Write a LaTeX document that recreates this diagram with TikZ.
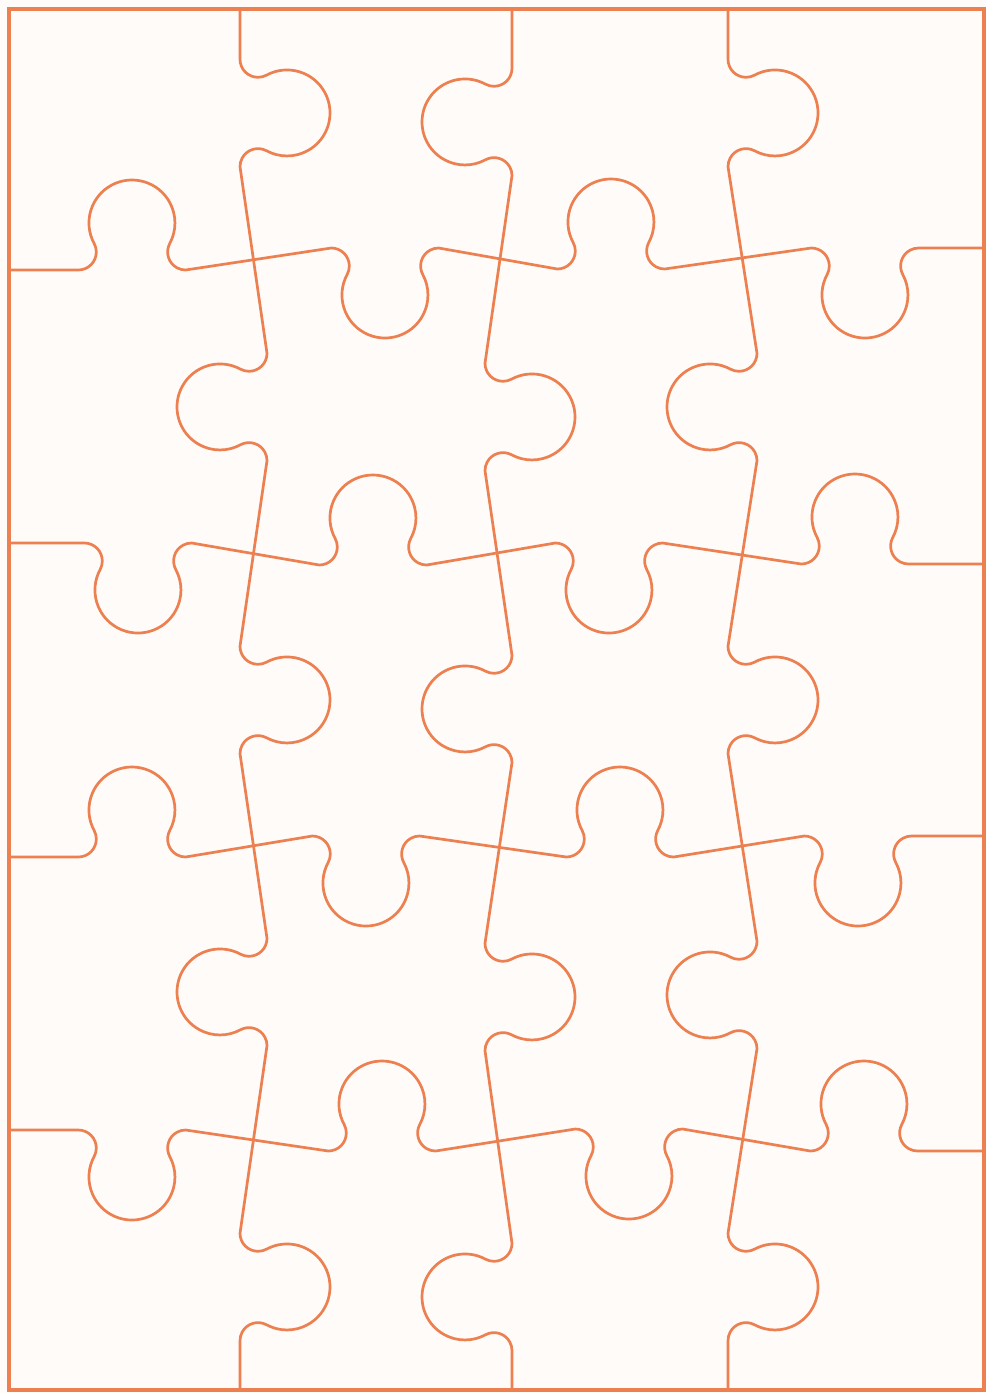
\documentclass[tikz,border=0pt]{standalone}
\usepackage{tikz}
\definecolor{pzline}{RGB}{237,128,80}
\definecolor{pzbg}{RGB}{254,251,248}
\begin{document}
\begin{tikzpicture}[x=1pt,y=-1pt,
  pz/.style={draw=pzline,line width=2.7pt,line cap=round,line join=round},
  kR/.style 2 args={insert path={-- (#1,#2-53.7) arc[start angle=180,end angle=61.6,radius=18] arc[start angle=-118.4,end angle=118.4,radius=43] arc[start angle=-61.6,end angle=-180,radius=18]}},
  kL/.style 2 args={insert path={-- (#1,#2-53.7) arc[start angle=0,end angle=118.4,radius=18] arc[start angle=298.4,end angle=61.6,radius=43] arc[start angle=241.6,end angle=360,radius=18]}},
  kU/.style 2 args={insert path={-- (#1-53.7,#2) arc[start angle=90,end angle=-28.4,radius=18] arc[start angle=-208.4,end angle=28.4,radius=43] arc[start angle=-151.6,end angle=-270,radius=18]}},
  kD/.style 2 args={insert path={-- (#1-53.7,#2) arc[start angle=-90,end angle=28.4,radius=18] arc[start angle=208.4,end angle=-28.4,radius=43] arc[start angle=151.6,end angle=270,radius=18]}}
]
\useasboundingbox (0,0) rectangle (986,1393);
\fill[pzbg] (0,0) rectangle (986,1393);
% vertical cuts
\path[pz] (240,9) [kR={240}{113}] [kL={267}{407}] [kR={240}{700}] [kL={267}{992}] [kR={240}{1287}] -- (240,1390);
\path[pz] (512,9) [kL={512}{122}] [kR={485}{417}] [kL={512}{709}] [kR={485}{997}] [kL={512}{1297}] -- (512,1390);
\path[pz] (728,9) [kR={728}{113}] [kL={757}{407}] [kR={728}{700}] [kL={757}{995}] [kR={728}{1287}] -- (728,1390);
% horizontal cuts
\path[pz] (9,270) [kU={132}{270}] [kD={385}{248}] [kU={611}{269}] [kD={865}{248}] -- (984,248);
\path[pz] (9,543) [kD={138}{543}] [kU={373}{565}] [kD={609}{543}] [kU={855}{564}] -- (984,564);
\path[pz] (9,857) [kU={132}{857}] [kD={366}{836}] [kU={620}{857}] [kD={858}{836}] -- (984,836);
\path[pz] (9,1130) [kD={132}{1130}] [kU={382}{1151}] [kD={629}{1129}] [kU={864}{1151}] -- (984,1151);
% border
\draw[draw=pzline,line width=3.6pt] (9,9) rectangle (984,1390);
\end{tikzpicture}
\end{document}
